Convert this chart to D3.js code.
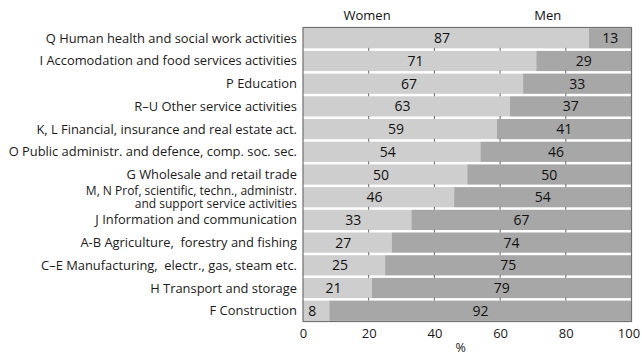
<!DOCTYPE html>
<html><head><meta charset="utf-8">
<script src="https://cdn.jsdelivr.net/npm/d3@7"></script>
<style>
body{margin:0;background:#fff;}
svg{display:block;font-family:"Open Sans",sans-serif;}
</style></head>
<body><svg id="c" width="642" height="359"></svg>
<script>
const categories = [
  ["Q Human health and social work activities"],
  ["I Accomodation and food services activities"],
  ["P Education"],
  ["R\u2013U Other service activities"],
  ["K, L Financial, insurance and real estate act."],
  ["O Public administr. and defence, comp. soc. sec."],
  ["G Wholesale and retail trade"],
  ["M, N Prof, scientific, techn., administr.", "and support service activities"],
  ["J Information and communication"],
  ["A-B Agriculture,  forestry and fishing"],
  ["C\u2013E Manufacturing,  electr., gas, steam etc."],
  ["H Transport and storage"],
  ["F Construction"]
];
const women = [87,71,67,63,59,54,50,46,33,27,25,21,8];
const men   = [13,29,33,37,41,46,50,54,67,74,75,79,92];
const xTicks = [0,20,40,60,80,100];
const seriesNames = ["Women","Men"];

const svg = d3.select("#c");
const L = 303, R = 631.5, T = 27.5, B = 321.5;
const x = d3.scaleLinear().domain([0,100]).range([L,R]);
const y = d3.scaleBand().domain(d3.range(categories.length)).range([T,B]).paddingInner(0.11).paddingOuter(0.03);

svg.append("rect").attr("x",L).attr("y",T).attr("width",R-L).attr("height",B-T).attr("fill","#fff");

svg.append("g").selectAll("rect").data(women).join("rect")
  .attr("x",x(0)).attr("y",(d,i)=>y(i)).attr("width",d=>x(Math.min(d,100))-x(0))
  .attr("height",y.bandwidth()).attr("fill","#cecece");
svg.append("g").selectAll("rect").data(men).join("rect")
  .attr("x",(d,i)=>x(Math.min(women[i],100))).attr("y",(d,i)=>y(i))
  .attr("width",(d,i)=>x(100)-x(Math.min(women[i],100)))
  .attr("height",y.bandwidth()).attr("fill","#a7a7a7");

const gapYs = d3.range(1,categories.length).map(i=>y(i));
const tg = svg.append("g");
gapYs.forEach(gy=>{
  xTicks.slice(1,-1).forEach(t=>{
    tg.append("line").attr("x1",x(t)).attr("x2",x(t)).attr("y1",gy-3).attr("y2",gy).attr("stroke","#666").attr("stroke-width",1);
  });
});

svg.append("rect").attr("x",L).attr("y",T).attr("width",R-L).attr("height",B-T)
  .attr("fill","none").attr("stroke","#707070").attr("stroke-width",1.2);

svg.append("g").selectAll("text").data(women).join("text")
  .attr("x",d=>x(d/2)-4).attr("y",(d,i)=>y(i)+y.bandwidth()/2+5)
  .attr("text-anchor","middle").attr("font-size",14).attr("fill","#111").text(d=>d);
svg.append("g").selectAll("text").data(men).join("text")
  .attr("x",(d,i)=>x((women[i]+100)/2)).attr("y",(d,i)=>y(i)+y.bandwidth()/2+5)
  .attr("text-anchor","middle").attr("font-size",14).attr("fill","#111").text(d=>d);

const lab = svg.append("g").selectAll("text").data(categories).join("text")
  .attr("text-anchor","end").attr("fill","#1a1a1a")
  .attr("font-size",d=>d.length>1?12:12.9)
  .style("white-space","pre")
  .attr("y",(d,i)=>y(i)+y.bandwidth()/2 + 4.5 - (d.length-1)*6.3);
lab.selectAll("tspan").data(d=>d).join("tspan")
  .attr("x",297).attr("dy",(d,j)=>j?12.6:0).text(d=>d);

svg.append("text").attr("x",x(19.5)).attr("y",19.5).attr("text-anchor","middle").attr("font-size",13).attr("fill","#111").text(seriesNames[0]);
svg.append("text").attr("x",x(74.5)).attr("y",19.5).attr("text-anchor","middle").attr("font-size",13).attr("fill","#111").text(seriesNames[1]);

const ax = d3.axisBottom(x).tickValues(xTicks).tickSize(0).tickPadding(7);
const g = svg.append("g").attr("transform",`translate(0,${B})`).call(ax);
g.select(".domain").remove();
g.selectAll("text").attr("font-size",13).attr("fill","#1a1a1a").attr("font-family","Open Sans")
  .attr("dx",d=>d===100?-3:0);
svg.append("text").attr("x",x(48)).attr("y",352).attr("text-anchor","middle").attr("font-size",12.5).attr("fill","#1a1a1a").text("%");
</script></body></html>
